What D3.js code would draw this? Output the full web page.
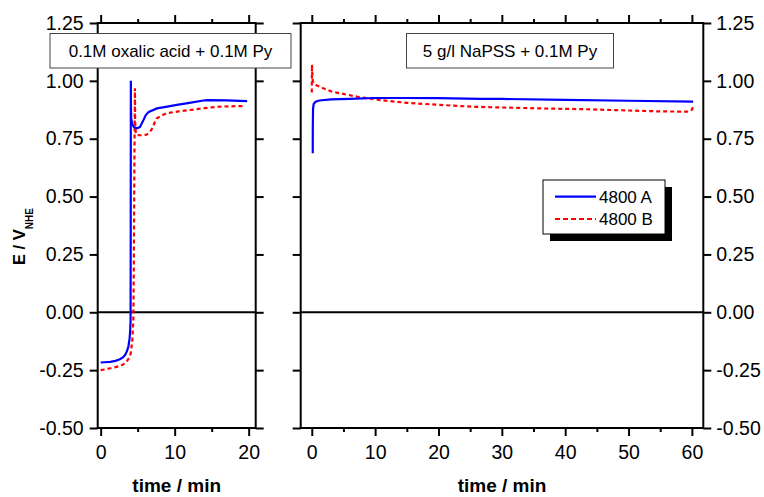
<!DOCTYPE html>
<html>
<head>
<meta charset="utf-8">
<script src="https://d3js.org/d3.v7.min.js"></script>
<style>
  html, body { margin: 0; padding: 0; background: #fff; }
  svg { display: block; font-family: "Liberation Sans", Arial, Helvetica, sans-serif; }
</style>
</head>
<body>
<svg id="chart" width="764" height="497"></svg>
<script>
// Potential transients, sample A (blue) and sample B (red)
const yTicks = [-0.5, -0.25, 0, 0.25, 0.5, 0.75, 1.0, 1.25];
const leftXTicks = [0, 10, 20];
const leftXMinor = [5, 15];
const rightXTicks = [0, 10, 20, 30, 40, 50, 60];
const rightXMinor = [5, 15, 25, 35, 45, 55];

const seriesNames = ["4800 A", "4800 B"];
const leftTitle = "0.1M oxalic acid + 0.1M Py";
const rightTitle = "5 g/l NaPSS + 0.1M Py";

// [time / min, E / V]
const oxalicA = [
  [0, -0.217], [0.5, -0.216], [1.3, -0.214], [2.0, -0.21], [2.6, -0.203], [3.0, -0.195],
  [3.3, -0.185], [3.55, -0.168], [3.75, -0.148], [3.9, -0.115], [3.98, -0.085], [4.04, -0.04],
  [4.06, 0.3], [4.07, 0.7], [4.08, 1.0], [4.09, 0.9], [4.12, 0.84], [4.25, 0.815],
  [4.5, 0.8], [4.9, 0.795], [5.3, 0.8], [5.7, 0.825], [6.1, 0.852], [6.5, 0.866],
  [7.6, 0.881], [9.0, 0.889], [10.3, 0.896], [12.0, 0.905], [13.9, 0.915], [14.4, 0.917],
  [17.0, 0.916], [19.8, 0.912]
];
const oxalicB = [
  [0, -0.25], [0.6, -0.247], [1.3, -0.242], [2.0, -0.237], [2.6, -0.232], [3.1, -0.224],
  [3.5, -0.214], [3.85, -0.196], [4.07, -0.177], [4.28, -0.12], [4.42, -0.03], [4.48, 0.2],
  [4.55, 0.6], [4.63, 0.968], [4.66, 0.82], [4.75, 0.775], [4.9, 0.766], [5.5, 0.765],
  [6.2, 0.767], [6.6, 0.778], [6.9, 0.79], [7.3, 0.82], [7.6, 0.838], [8.2, 0.85],
  [8.9, 0.86], [10.5, 0.868], [12.1, 0.874], [14.0, 0.882], [15.7, 0.888], [17.5, 0.89],
  [19.3, 0.891]
];
const napssA = [
  [0.15, 0.687], [0.16, 0.8], [0.2, 0.88], [0.3, 0.9], [0.6, 0.91], [1.2, 0.915],
  [3, 0.92], [6, 0.922], [10, 0.926], [15, 0.926], [20, 0.925], [26.6, 0.922],
  [30, 0.922], [40, 0.918], [50, 0.914], [60.2, 0.91]
];
const napssB = [
  [0, 0.95], [0.03, 1.07], [0.08, 1.03], [0.15, 1.0], [0.3, 0.99], [0.8, 0.98],
  [1.8, 0.968], [3, 0.955], [4.5, 0.946], [7.1, 0.932], [10.8, 0.917], [15, 0.905],
  [20.3, 0.896], [25.5, 0.888], [30, 0.885], [37.6, 0.88], [42.4, 0.878], [50, 0.872],
  [55, 0.868], [59.5, 0.867], [60, 0.875], [60.2, 0.888]
];

const colors = ["#0000ff", "#ff0000"];
const svg = d3.select("#chart");

const plotTop = 23, plotBottom = 428;
const y = d3.scaleLinear().domain([-0.5, 1.25]).range([plotBottom, plotTop]);
const xL = d3.scaleLinear().domain([-0.4, 20.95]).range([97.7, 255.7]);
const xR = d3.scaleLinear().domain([-1.75, 61.8]).range([300.7, 703.3]);

const fmt = v => d3.format(".2f")(v).replace("\u2212", "-");

function styleAxis(g) {
  g.select(".domain").remove();
  g.selectAll(".tick line").attr("stroke", "#000").attr("stroke-width", 2);
  g.selectAll(".tick text").attr("fill", "#000").attr("font-size", 19.5);
}

function panel(x, majors, minors, labelLeft, labelRight, dataA, dataB) {
  const [x0, x1] = x.range();
  const g = svg.append("g");

  // tick marks, all pointing outward
  g.append("g").attr("transform", `translate(0,${plotBottom})`)
    .call(d3.axisBottom(x).tickValues(majors).tickSize(8).tickPadding(9).tickFormat(d3.format("d")))
    .call(styleAxis);
  g.append("g").attr("transform", `translate(0,${plotBottom})`)
    .call(d3.axisBottom(x).tickValues(minors).tickSize(4).tickFormat(""))
    .call(styleAxis);
  g.append("g").attr("transform", `translate(0,${plotTop})`)
    .call(d3.axisTop(x).tickValues(majors).tickSize(8).tickFormat(""))
    .call(styleAxis);
  g.append("g").attr("transform", `translate(0,${plotTop})`)
    .call(d3.axisTop(x).tickValues(minors).tickSize(4).tickFormat(""))
    .call(styleAxis);
  g.append("g").attr("transform", `translate(${x0},0)`)
    .call(d3.axisLeft(y).tickValues(yTicks).tickSize(8).tickPadding(6).tickFormat(labelLeft ? fmt : ""))
    .call(styleAxis);
  g.append("g").attr("transform", `translate(${x1},0)`)
    .call(d3.axisRight(y).tickValues(yTicks).tickSize(8).tickPadding(5).tickFormat(labelRight ? fmt : ""))
    .call(styleAxis);

  // zero reference line
  g.append("line")
    .attr("x1", x0).attr("x2", x1).attr("y1", y(0)).attr("y2", y(0))
    .attr("stroke", "#000").attr("stroke-width", 2);

  // frame
  g.append("rect")
    .attr("x", x0).attr("y", plotTop).attr("width", x1 - x0).attr("height", plotBottom - plotTop)
    .attr("fill", "none").attr("stroke", "#000").attr("stroke-width", 2);

  const line = d3.line().x(d => x(d[0])).y(d => y(d[1]));
  g.append("path").datum(dataB).attr("d", line)
    .attr("fill", "none").attr("stroke", colors[1]).attr("stroke-width", 2.2)
    .attr("stroke-dasharray", "4,3");
  g.append("path").datum(dataA).attr("d", line)
    .attr("fill", "none").attr("stroke", colors[0]).attr("stroke-width", 2.2);

  // axis title
  svg.append("text")
    .attr("x", (x0 + x1) / 2).attr("y", 492)
    .attr("text-anchor", "middle").attr("font-weight", "bold").attr("font-size", 19)
    .text("time / min");
  return g;
}

panel(xL, leftXTicks, leftXMinor, true, false, oxalicA, oxalicB);
panel(xR, rightXTicks, rightXMinor, false, true, napssA, napssB);

// electrolyte labels
function labelBox(cx, x, w, text) {
  svg.append("rect").attr("x", x).attr("y", 33.5).attr("width", w).attr("height", 34.5)
    .attr("fill", "#fff").attr("stroke", "#444").attr("stroke-width", 1);
  svg.append("text").attr("x", cx).attr("y", 57)
    .attr("text-anchor", "middle").attr("font-size", 17).text(text);
}
labelBox(170.5, 50, 241, leftTitle);
labelBox(510, 406.5, 207, rightTitle);

// y-axis title
const yt = svg.append("text")
  .attr("transform", "translate(25,265) rotate(-90)")
  .attr("font-weight", "bold").attr("font-size", 16.5);
yt.append("tspan").text("E / V");
yt.append("tspan").attr("font-size", 10).attr("dy", 8).text("NHE");

// legend with drop shadow
const lg = svg.append("g").attr("transform", "translate(543,180)");
lg.append("rect").attr("x", 7).attr("y", 7).attr("width", 122).attr("height", 54).attr("fill", "#000");
lg.append("rect").attr("x", 0).attr("y", 0).attr("width", 122).attr("height", 54)
  .attr("fill", "#fff").attr("stroke", "#000").attr("stroke-width", 1);
seriesNames.forEach((name, i) => {
  const yy = 16.7 + i * 22.3;
  lg.append("line").attr("x1", 12).attr("x2", 53).attr("y1", yy).attr("y2", yy)
    .attr("stroke", colors[i]).attr("stroke-width", 2.2)
    .attr("stroke-dasharray", i === 1 ? "5,3" : null);
  lg.append("text").attr("x", 56).attr("y", yy + 6).attr("font-size", 17).text(name);
});
</script>
</body>
</html>
